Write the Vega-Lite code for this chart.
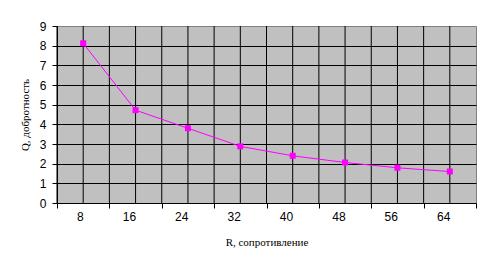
{
  "$schema": "https://vega.github.io/schema/vega-lite/v6.json",
  "width": 419,
  "height": 177,
  "autosize": {"type": "none"},
  "padding": {"left": 57, "top": 26, "right": 15, "bottom": 69},
  "background": "white",
  "config": {
    "view": {"stroke": "#808080", "strokeWidth": 1, "fill": "#C0C0C0"},
    "axis": {"labelFont": "Liberation Sans", "labelFontSize": 12, "labelColor": "black", "titleFont": "Liberation Serif", "titleFontSize": 11, "titleFontWeight": "normal", "titleColor": "black", "domainColor": "black", "tickColor": "black"}
  },
  "data": {"values": [
    {"R": 8, "Q": 8.12},
    {"R": 16, "Q": 4.72},
    {"R": 24, "Q": 3.8},
    {"R": 32, "Q": 2.88},
    {"R": 40, "Q": 2.4},
    {"R": 48, "Q": 2.06},
    {"R": 56, "Q": 1.79},
    {"R": 64, "Q": 1.6}
  ]},
  "layer": [
    {
      "mark": {"type": "rule", "color": "black", "strokeWidth": 1},
      "encoding": {
        "x": {"field": "R", "type": "ordinal", "bandPosition": 0}
      }
    },
    {
      "mark": {"type": "rule", "color": "black", "strokeWidth": 1},
      "encoding": {
        "x": {"field": "R", "type": "ordinal", "bandPosition": 0.5}
      }
    },
    {
      "mark": {"type": "line", "color": "#FF00FF", "strokeWidth": 1, "interpolate": "linear", "point": {"shape": "square", "size": 36, "color": "#FF00FF", "filled": true, "opacity": 1}},
      "encoding": {
        "x": {
          "field": "R", "type": "ordinal",
          "scale": {"paddingInner": 0, "paddingOuter": 0},
          "axis": {"title": "R, сопротивление", "labelAngle": 0, "tickBand": "extent", "grid": false, "tickSize": 5, "labelPadding": 8, "titlePadding": 14, "domainWidth": 1}
        },
        "y": {
          "field": "Q", "type": "quantitative",
          "scale": {"domain": [0, 9], "nice": false},
          "axis": {"title": "Q, добротность", "values": [0,1,2,3,4,5,6,7,8,9], "grid": true, "gridColor": {"condition": {"test": "datum.value == 9 || datum.value == 0", "value": "#808080"}, "value": "black"}, "gridOpacity": 1, "tickSize": 5, "labelPadding": 6, "titlePadding": 9}
        }
      }
    }
  ]
}
